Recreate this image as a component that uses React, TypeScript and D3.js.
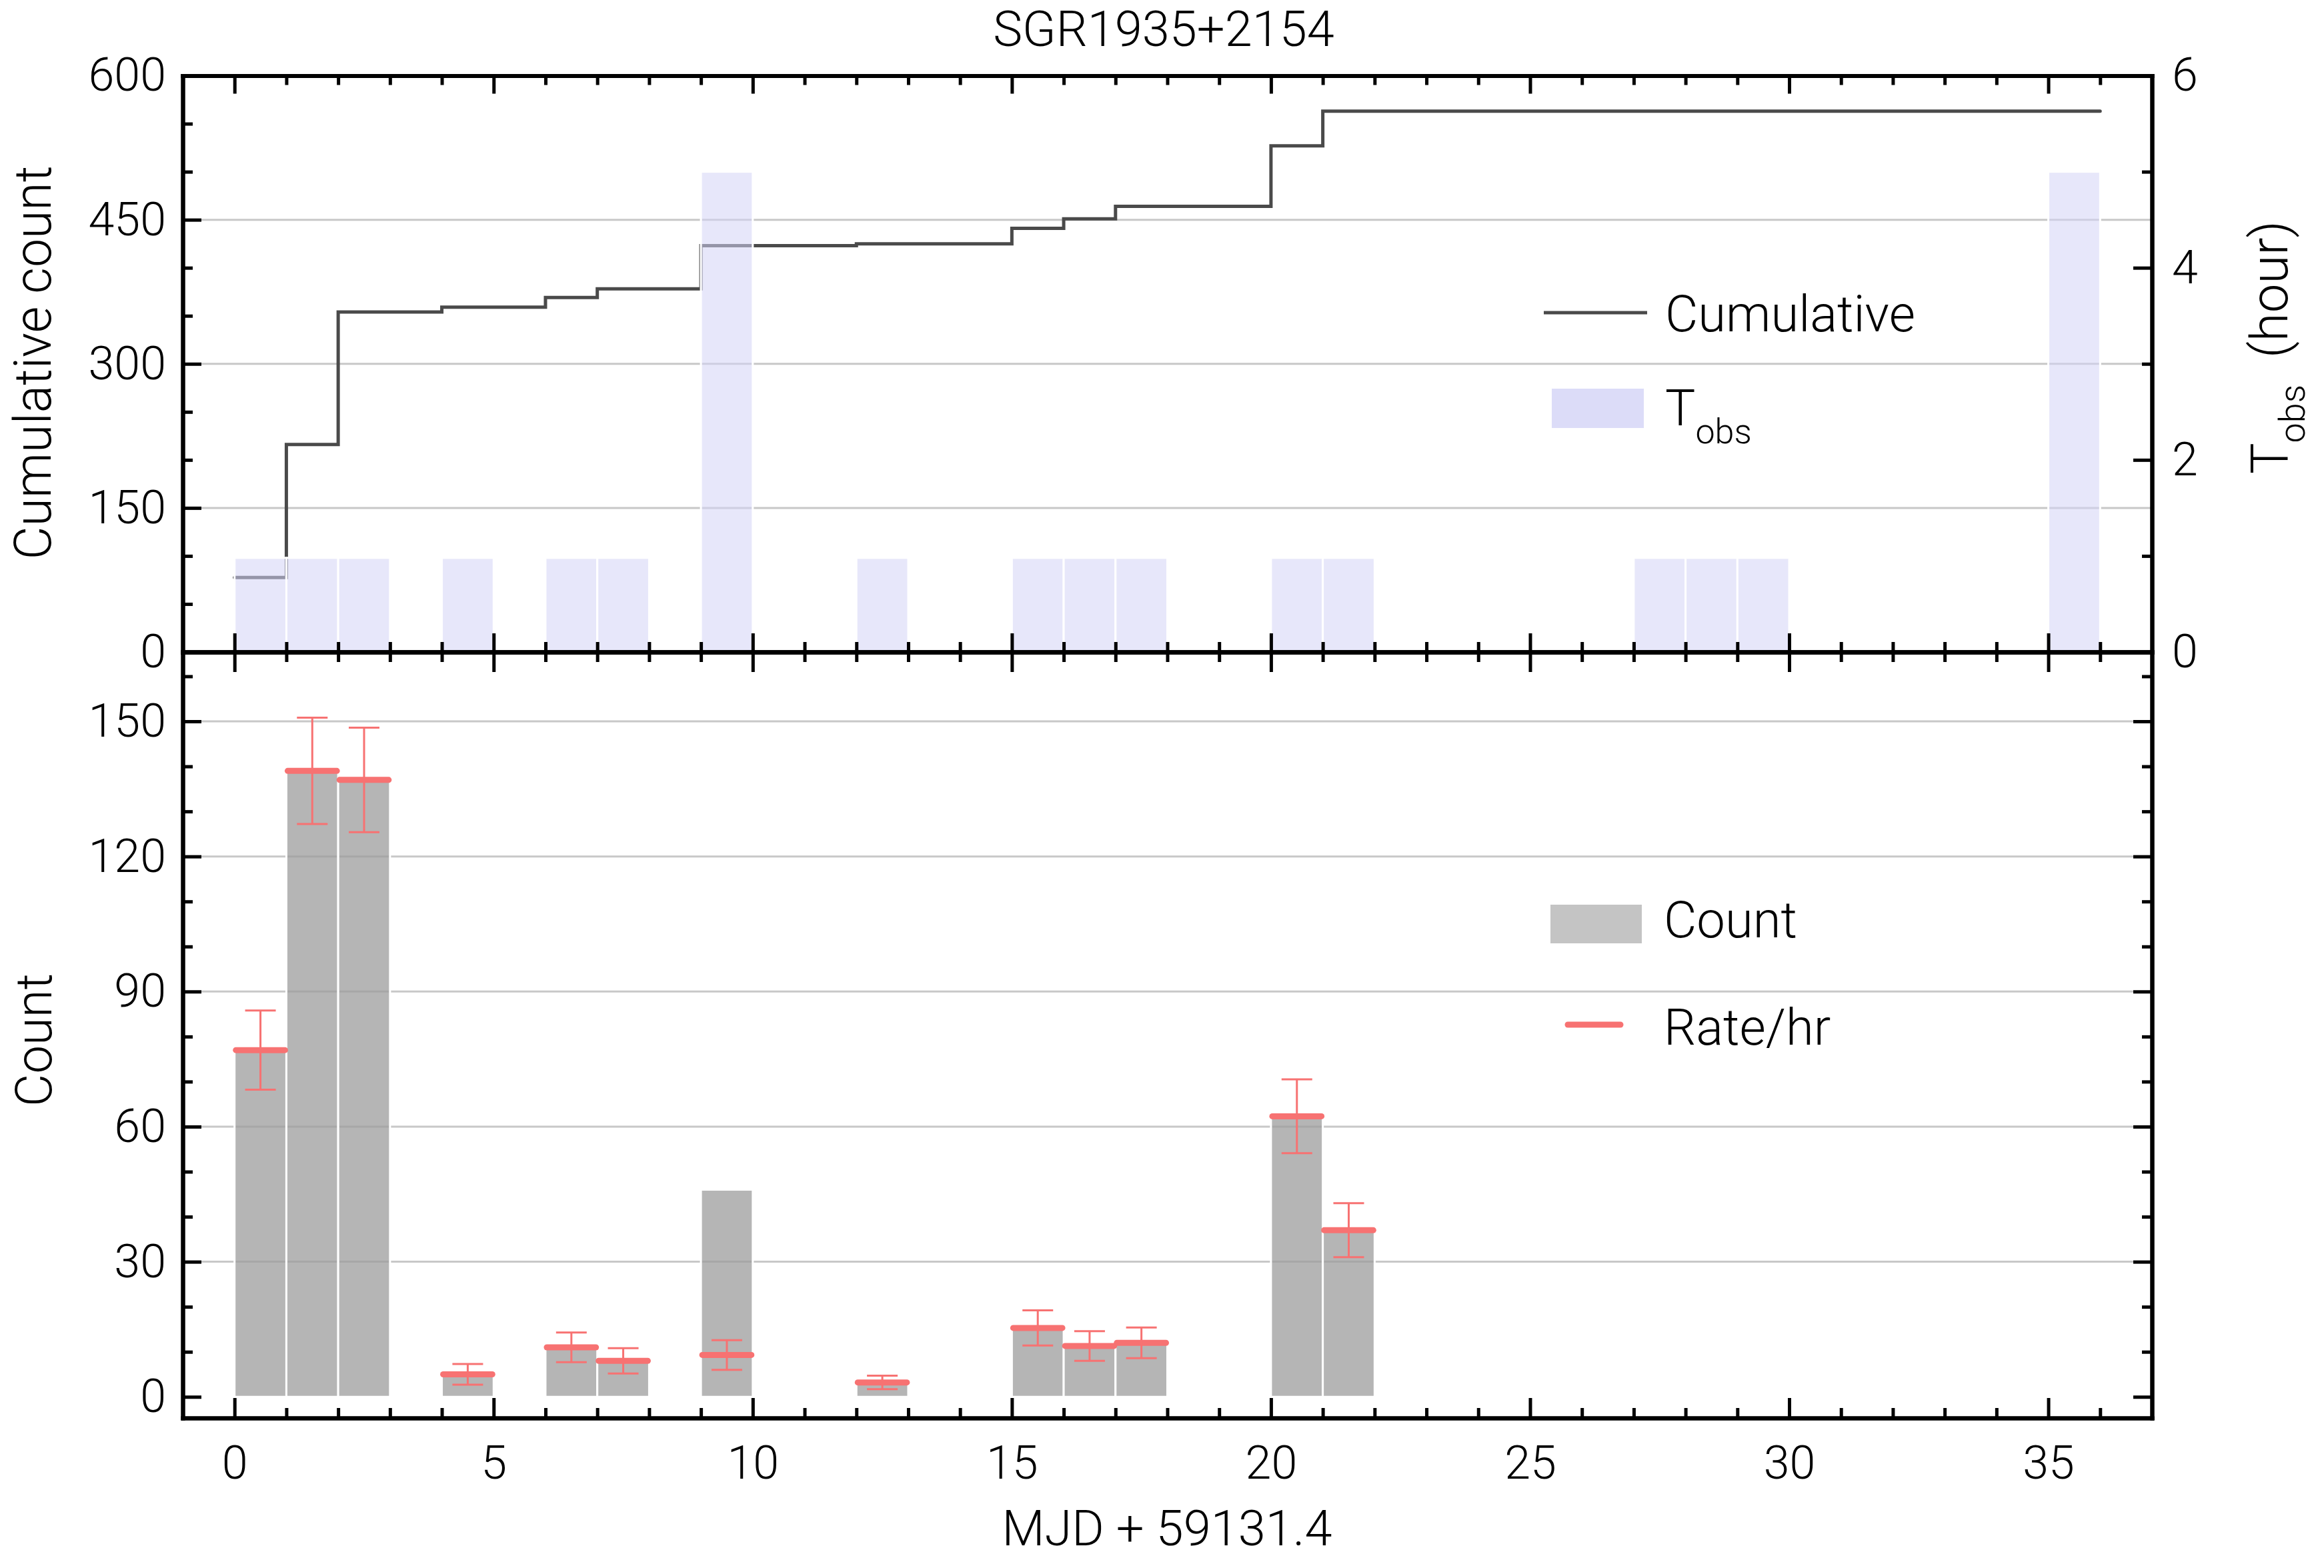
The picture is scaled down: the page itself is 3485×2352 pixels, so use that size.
import { useEffect, useRef } from "react";
import * as d3 from "d3";

// observed bins (day index from MJD 59131.4)
const countBins = [0, 1, 2, 4, 6, 7, 9, 12, 15, 16, 17, 20, 21];
const counts = [77, 139, 137, 5, 11, 8, 46, 3, 15, 11, 12, 62, 37];
const rates = [77, 139, 137, 5, 11, 8, 9.3, 3.2, 15.3, 11.3, 12, 62.3, 37];
const rateErr = [8.8, 11.8, 11.6, 2.3, 3.3, 2.8, 3.3, 1.5, 3.9, 3.3, 3.4, 8.2, 6.0];
const cumulative = [77.5, 216, 354, 359, 369, 378, 423, 425, 441, 451, 464, 527, 563];
const cumulativeEnd = 36;

const tobsBins = [0, 1, 2, 4, 6, 7, 9, 12, 15, 16, 17, 20, 21, 27, 28, 29, 35];
const tobsHours = [0.98, 0.98, 0.98, 0.98, 0.98, 0.98, 5, 0.98, 0.98, 0.98, 0.98, 0.98, 0.98, 0.98, 0.98, 0.98, 5];

const xMajor = [0, 5, 10, 15, 20, 25, 30, 35];
const cumTicks = [0, 150, 300, 450, 600];
const hourTicks = [0, 2, 4, 6];
const countTicks = [0, 30, 60, 90, 120, 150];

const W = 3485;
const H = 2352;
const FONT = "Roboto, 'Liberation Sans', sans-serif";

export default function App() {
  const svgRef = useRef<SVGSVGElement>(null);

  useEffect(() => {
    if (!svgRef.current) return;
    const svg = d3.select(svgRef.current);
    svg.selectAll("*").remove();

    const left = 274;
    const right = 3227;
    const top = 113.5;
    const mid = 978;
    const bottom = 2127;

    const x = d3.scaleLinear().domain([-1, 37]).range([left, right]);
    const yCum = d3.scaleLinear().domain([0, 600]).range([mid, top]);
    const yHr = d3.scaleLinear().domain([0, 6]).range([mid, top]);
    const yCnt = d3.scaleLinear().domain([-4.7, 165.4]).range([bottom, mid]);

    const xMinor = d3.range(1, 37).filter((d) => d % 5 !== 0);
    const cumMinor = d3.range(50, 600, 50).filter((d) => d % 150 !== 0);
    const hourMinor = [1, 3, 5];
    const countMinor = d3.range(10, 170, 10).filter((d) => d % 30 !== 0);

    // grid
    const grid = svg.append("g").attr("stroke", "#c8c8c8").attr("stroke-width", 3);
    [150, 300, 450].forEach((v) => {
      grid.append("line").attr("x1", left).attr("x2", right).attr("y1", yCum(v)).attr("y2", yCum(v));
    });
    countTicks.slice(1).forEach((v) => {
      grid.append("line").attr("x1", left).attr("x2", right).attr("y1", yCnt(v)).attr("y2", yCnt(v));
    });

    // cumulative step line
    const cumPts: [number, number][] = countBins.map((b, i) => [b, cumulative[i]]);
    cumPts.push([cumulativeEnd, cumulative[cumulative.length - 1]]);
    const line = d3
      .line<[number, number]>()
      .x((d) => x(d[0]))
      .y((d) => yCum(d[1]))
      .curve(d3.curveStepAfter);
    svg
      .append("path")
      .attr("d", line(cumPts))
      .attr("fill", "none")
      .attr("stroke", "#4a4a4a")
      .attr("stroke-width", 5)
      .attr("stroke-linecap", "round");

    // T_obs bars
    svg
      .append("g")
      .selectAll("rect")
      .data(tobsBins)
      .join("rect")
      .attr("x", (d) => x(d))
      .attr("width", (d) => x(d + 1) - x(d))
      .attr("y", (_, i) => yHr(tobsHours[i]))
      .attr("height", (_, i) => yHr(0) - yHr(tobsHours[i]))
      .attr("fill", "#d4d4f6")
      .attr("fill-opacity", 0.55)
      .attr("stroke", "#ffffff")
      .attr("stroke-width", 3);

    // count bars
    svg
      .append("g")
      .selectAll("rect")
      .data(countBins)
      .join("rect")
      .attr("x", (d) => x(d))
      .attr("width", (d) => x(d + 1) - x(d))
      .attr("y", (_, i) => yCnt(counts[i]))
      .attr("height", (_, i) => yCnt(0) - yCnt(counts[i]))
      .attr("fill", "#9c9c9c")
      .attr("fill-opacity", 0.75)
      .attr("stroke", "#ffffff")
      .attr("stroke-width", 3);

    // error bars
    const red = "#f77272";
    const eb = svg.append("g").attr("stroke", red).attr("stroke-width", 3);
    countBins.forEach((b, i) => {
      const cx = x(b + 0.5);
      const lo = yCnt(rates[i] - rateErr[i]);
      const hi = yCnt(rates[i] + rateErr[i]);
      eb.append("line").attr("x1", cx).attr("x2", cx).attr("y1", lo).attr("y2", hi);
      eb.append("line").attr("x1", cx - 23).attr("x2", cx + 23).attr("y1", lo).attr("y2", lo);
      eb.append("line").attr("x1", cx - 23).attr("x2", cx + 23).attr("y1", hi).attr("y2", hi);
    });

    // rate lines
    svg
      .append("g")
      .selectAll("line")
      .data(countBins)
      .join("line")
      .attr("x1", (d) => x(d) + 2)
      .attr("x2", (d) => x(d + 1) - 2)
      .attr("y1", (_, i) => yCnt(rates[i]))
      .attr("y2", (_, i) => yCnt(rates[i]))
      .attr("stroke", red)
      .attr("stroke-width", 9)
      .attr("stroke-linecap", "round");

    // axes
    const styleAxis = (g: d3.Selection<SVGGElement, unknown, null, undefined>) => {
      g.select(".domain").attr("stroke", "#000").attr("stroke-width", 6).attr("stroke-linecap", "square");
      g.selectAll(".tick line").attr("stroke", "#000").attr("stroke-width", 5);
      g.selectAll(".tick text")
        .attr("fill", "#000")
        .attr("font-family", FONT)
        .attr("font-weight", 300)
        .attr("font-size", 70);
    };
    const addAxis = (
      axis: d3.Axis<d3.NumberValue>,
      tx: number,
      ty: number,
      labels: boolean
    ) => {
      axis.tickFormat(labels ? d3.format("d") : () => "");
      const g = svg
        .append("g")
        .attr("transform", `translate(${tx},${ty})`)
        .call(axis as any);
      styleAxis(g as any);
      return g;
    };

    // top panel
    addAxis(d3.axisLeft(yCum).tickValues(cumTicks).tickSize(-28).tickSizeOuter(0).tickPadding(25), left, 0, true);
    addAxis(d3.axisLeft(yCum).tickValues(cumMinor).tickSize(-15).tickSizeOuter(0), left, 0, false);
    addAxis(d3.axisRight(yHr).tickValues(hourTicks).tickSize(-28).tickSizeOuter(0).tickPadding(30), right, 0, true);
    addAxis(d3.axisRight(yHr).tickValues(hourMinor).tickSize(-15).tickSizeOuter(0), right, 0, false);
    addAxis(d3.axisTop(x).tickValues(xMajor).tickSize(-27).tickSizeOuter(0), 0, top, false);
    addAxis(d3.axisTop(x).tickValues(xMinor).tickSize(-14).tickSizeOuter(0), 0, top, false);
    addAxis(d3.axisBottom(x).tickValues(xMajor).tickSize(-28).tickSizeOuter(0), 0, mid, false);
    addAxis(d3.axisBottom(x).tickValues(xMinor).tickSize(-15).tickSizeOuter(0), 0, mid, false);

    // bottom panel
    addAxis(d3.axisTop(x).tickValues(xMajor).tickSize(-30).tickSizeOuter(0), 0, mid, false);
    addAxis(d3.axisTop(x).tickValues(xMinor).tickSize(-15).tickSizeOuter(0), 0, mid, false);
    addAxis(d3.axisLeft(yCnt).tickValues(countTicks).tickSize(-28).tickSizeOuter(0).tickPadding(25), left, 0, true);
    addAxis(d3.axisLeft(yCnt).tickValues(countMinor).tickSize(-15).tickSizeOuter(0), left, 0, false);
    addAxis(d3.axisRight(yCnt).tickValues(countTicks).tickSize(-28).tickSizeOuter(0), right, 0, false);
    addAxis(d3.axisRight(yCnt).tickValues(countMinor).tickSize(-15).tickSizeOuter(0), right, 0, false);
    addAxis(d3.axisBottom(x).tickValues(xMajor).tickSize(-30).tickSizeOuter(0).tickPadding(41), 0, bottom, true);
    addAxis(d3.axisBottom(x).tickValues(xMinor).tickSize(-15).tickSizeOuter(0), 0, bottom, false);

    // texts
    const txt = (tx: number, ty: number, size: number, anchor = "start", rot = 0) =>
      svg
        .append("text")
        .attr("transform", `translate(${tx},${ty}) rotate(${rot})`)
        .attr("text-anchor", anchor)
        .attr("font-family", FONT)
        .attr("font-weight", 300)
        .attr("font-size", size)
        .attr("fill", "#000");

    txt(1745, 69, 74, "middle").text("SGR1935+2154");
    txt(1750, 2318, 74, "middle").text("MJD + 59131.4");
    txt(76, 544, 77, "middle", -90).text("Cumulative count");
    txt(77, 1560, 76, "middle", -90).text("Count");

    const rl = txt(3430, 521, 78, "middle", -90);
    rl.append("tspan").text("T");
    rl.append("tspan").attr("font-size", 54).attr("dy", 26).text("obs");
    rl.append("tspan").attr("dy", -26).text("\u2002(hour)");

    // legends
    svg
      .append("line")
      .attr("x1", 2315)
      .attr("x2", 2470)
      .attr("y1", 469)
      .attr("y2", 469)
      .attr("stroke", "#4a4a4a")
      .attr("stroke-width", 5);
    txt(2497, 497, 76).text("Cumulative");
    svg.append("rect").attr("x", 2327).attr("y", 583).attr("width", 138).attr("height", 59).attr("fill", "#dcdcf8");
    const tl = txt(2497, 638, 76);
    tl.append("tspan").text("T");
    tl.append("tspan").attr("font-size", 52).attr("dy", 27).text("obs");

    svg.append("rect").attr("x", 2325).attr("y", 1357).attr("width", 137).attr("height", 58).attr("fill", "#c4c4c4");
    txt(2495, 1406, 76).text("Count");
    svg
      .append("line")
      .attr("x1", 2351)
      .attr("x2", 2430)
      .attr("y1", 1537)
      .attr("y2", 1537)
      .attr("stroke", red)
      .attr("stroke-width", 9)
      .attr("stroke-linecap", "round");
    txt(2495, 1567, 76).text("Rate/hr");
  }, []);

  return (
    <svg
      ref={svgRef}
      width={W}
      height={H}
      viewBox={`0 0 ${W} ${H}`}
      style={{ position: "absolute", left: 0, top: 0, display: "block", background: "#fff" }}
      role="img"
      aria-label="SGR1935+2154 cumulative and daily burst counts"
    />
  );
}
